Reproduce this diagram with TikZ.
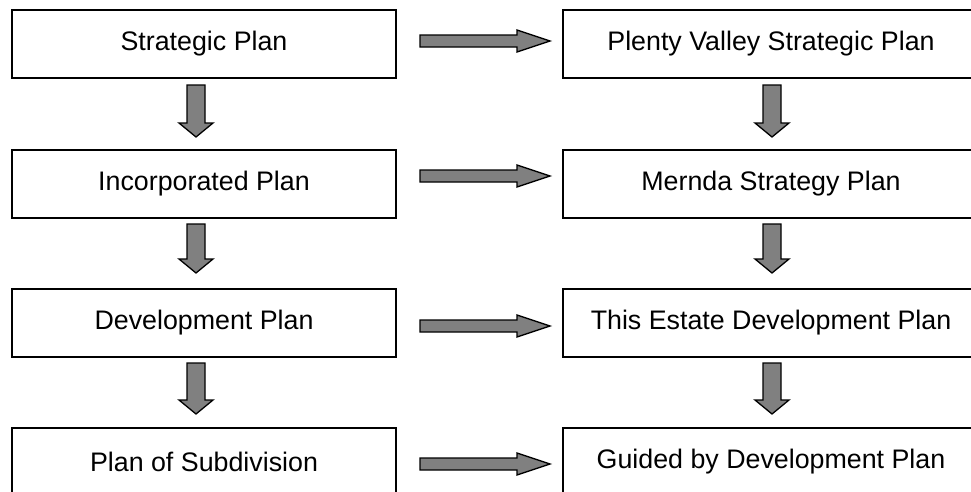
\documentclass[tikz,border=0pt]{standalone}
\usepackage{fontspec}
\setmainfont{Liberation Sans}
\definecolor{arrowgray}{RGB}{128,128,128}
\begin{document}
\begin{tikzpicture}[x=1pt,y=-1pt,
  planbox/.style={draw, line width=2pt, inner sep=0pt, minimum height=68pt,
    font=\fontsize{26.8}{32}\selectfont},
  leftbox/.style={planbox, minimum width=384pt},
  rightbox/.style={planbox, minimum width=416pt},
  blockarrow/.style={draw, line width=1.3pt, fill=arrowgray, line join=miter}]
\useasboundingbox (0,0) rectangle (971,491);
% boxes
\node[leftbox]  (l1) at (204,44)  {Strategic Plan};
\node[leftbox]  (l2) at (204,184) {Incorporated Plan};
\node[leftbox]  (l3) at (204,323) {Development Plan};
\node[leftbox]  (l4) at (204,462) {Plan of Subdivision};
\node[rightbox] (r1) at (771,44)  {Plenty Valley Strategic Plan};
\node[rightbox] (r2) at (771,184) {Mernda Strategy Plan};
\node[rightbox] (r3) at (771,323) {This Estate Development Plan};
\node[rightbox] (r4) at (771,462) {Guided by Development Plan};
% horizontal block arrows
\foreach \y in {41,176,326,464}{
  \draw[blockarrow] (420,{\y-6}) -- (517,{\y-6}) -- (517,{\y-11}) -- (550,\y)
    -- (517,{\y+11}) -- (517,{\y+6}) -- (420,{\y+6}) -- cycle;
}
% vertical block arrows
\foreach \x in {196,772}{
  \foreach \t/\p in {85/137,224/273,363/414}{
    \draw[blockarrow] ({\x-9},\t) -- ({\x+9},\t) -- ({\x+9},{\p-14}) -- ({\x+17},{\p-14})
      -- (\x,\p) -- ({\x-17},{\p-14}) -- ({\x-9},{\p-14}) -- cycle;
  }
}
\end{tikzpicture}
\end{document}
